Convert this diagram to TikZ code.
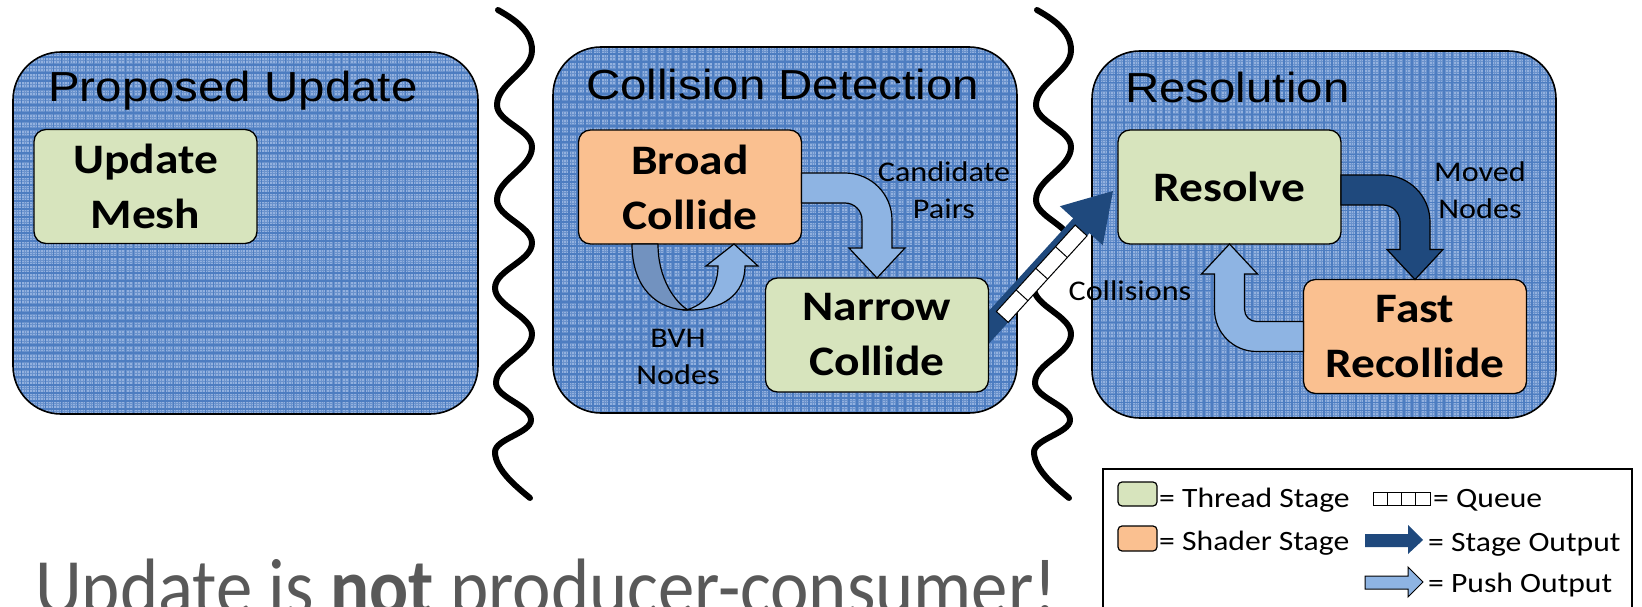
\documentclass[tikz,border=0pt]{standalone}
\usepackage{fontspec}
\setmainfont{Carlito}
\newfontfamily\titlefont[FakeStretch=1.13]{Liberation Sans}
\newfontfamily\stagefont[FakeStretch=1.13]{Carlito}
\newfontfamily\slidefont[FakeStretch=0.91]{Carlito}
\usetikzlibrary{calc}

\definecolor{threadgreen}{HTML}{D7E4BD}
\definecolor{shaderorange}{HTML}{FAC090}
\definecolor{pushblue}{HTML}{8EB4E3}
\definecolor{stageblue}{HTML}{1F497D}
\definecolor{backblue}{HTML}{7292BF}
\definecolor{panelbase}{HTML}{93B1DF}
\definecolor{panelfine}{HTML}{6A92CC}
\definecolor{panelmajor}{HTML}{4D7DC1}
\definecolor{notegray}{HTML}{595959}

\pgfdeclarelayer{bg}
\pgfdeclarelayer{mid}
\pgfsetlayers{bg,mid,main}

\tikzset{
  panel/.style={draw=black, line width=1.6pt, fill=panelbase, rounded corners=48pt,
    inner sep=0pt, outer sep=0pt,
    path picture={
      \draw[panelfine, line width=0.7pt, step=2.7pt]
        (path picture bounding box.south west) grid (path picture bounding box.north east);
      \draw[panelmajor, line width=1.1pt, step=8pt]
        (path picture bounding box.south west) grid (path picture bounding box.north east);
    }},
  stagebox/.style={draw=black, line width=1.3pt, rounded corners=12pt,
    minimum width=223pt, minimum height=114pt, inner sep=0pt, outer sep=0pt, align=center,
    font=\stagefont\bfseries\fontsize{42}{55}\selectfont},
  thread/.style={stagebox, fill=threadgreen},
  shader/.style={stagebox, fill=shaderorange},
  paneltitle/.style={anchor=base west, inner sep=0pt, font=\titlefont\fontsize{42}{50}\selectfont},
  flowlabel/.style={inner sep=0pt, align=center, font=\stagefont\fontsize{28.5}{37}\selectfont},
  legendtext/.style={anchor=base west, inner sep=0pt, font=\stagefont\fontsize{28}{34}\selectfont},
  pushshape/.style={fill=pushblue, draw=black, line width=1.2pt, line join=miter},
  stageshape/.style={fill=stageblue, draw=black, line width=1.2pt, line join=miter},
  waveline/.style={draw=black, line width=6pt, line cap=round, line join=round},
  queuecell/.style={draw=black, fill=white, line width=1pt},
}

% wavy separator between two pipeline stages
\newcommand{\drawstagebreak}{%
  \draw[waveline] (498,10) .. controls (512,18) and (532,30) .. (532,50)
    .. controls (532,72) and (497,83) .. (497,105)
    .. controls (497,122) and (532,130) .. (532,147)
    .. controls (532,168) and (497,179) .. (497,200)
    .. controls (497,217) and (532,226) .. (532,243)
    .. controls (532,261) and (495,270) .. (495,288)
    .. controls (495,306) and (532,316) .. (532,334)
    .. controls (532,354) and (496,363) .. (496,383)
    .. controls (496,398) and (531,405) .. (531,420)
    .. controls (531,433) and (495,439) .. (495,452)
    .. controls (495,470) and (518,488) .. (530,498);
}

% block arrow with one rounded bend: style, start, target, horizontal sense, vertical sense, inner radius
\newcommand{\bentarrow}[6]{%
  \path[#1] let \p1=(#2), \p2=(#3),
      \p3=({\x2-(#4)*(15pt+#6)}, {\y1+(#5)*(15pt+#6)}) in
    (\x1, {\y1-(#5)*15pt}) -- (\x3, {\y1-(#5)*15pt})
    .. controls ({\x3+(#4)*0.5523*(#6+30pt)}, {\y1-(#5)*15pt})
            and ({\x2+(#4)*15pt}, {\y3-(#5)*0.5523*(#6+30pt)}) ..
    ({\x2+(#4)*15pt}, \y3)
    -- ({\x2+(#4)*15pt}, {\y2-(#5)*30pt})
    -- ({\x2+(#4)*28pt}, {\y2-(#5)*30pt})
    -- (\x2, \y2)
    -- ({\x2-(#4)*28pt}, {\y2-(#5)*30pt})
    -- ({\x2-(#4)*15pt}, {\y2-(#5)*30pt})
    -- ({\x2-(#4)*15pt}, \y3)
    .. controls ({\x2-(#4)*15pt}, {\y3-(#5)*0.5523*#6})
            and ({\x3+(#4)*0.5523*#6}, {\y1+(#5)*15pt}) ..
    (\x3, {\y1+(#5)*15pt})
    -- (\x1, {\y1+(#5)*15pt}) -- cycle;
}

\begin{document}
\begin{tikzpicture}[x=1pt, y=-1pt]
\useasboundingbox (0,0) rectangle (1642,607);

% stage containers and separators
\begin{pgfonlayer}{bg}
  \node[panel, minimum width=465pt, minimum height=362pt] (pupdate) at (245.5,233) {};
  \node[panel, minimum width=464pt, minimum height=366pt] (pdetect) at (785,230) {};
  \node[panel, minimum width=464pt, minimum height=367pt] (presolve) at (1324,234.5) {};
  \drawstagebreak
  \begin{scope}[xshift=539pt]
    \drawstagebreak
  \end{scope}
\end{pgfonlayer}

\node[paneltitle] (tupdate) at (48,102) {Proposed Update};
\node[paneltitle] (tdetect) at (586,100) {Collision Detection};
\node[paneltitle] (tresolve) at (1125,103) {Resolution};

% stages
\node[thread] (mesh) at (145.5,186.5) {Update\\Mesh};
\node[shader] (broad) at (690,187) {Broad\\Collide};
\node[thread] (narrow) at (877,335) {Narrow\\Collide};
\node[thread] (resolve) at (1229.5,187) {Resolve};
\node[shader] (fast) at (1415,336.5) {Fast\\Recollide};

% queued stage output from narrow phase to resolution
\coordinate (qtail) at ($(narrow.east)+(-14,8)$);
\coordinate (qtip) at ($(resolve.west)+(-5,4)$);
\path let \p1=(qtail), \p2=(qtip) in
  \pgfextra{\pgfmathsetmacro\tmpang{atan2(\y2-\y1,\x2-\x1)}\global\let\qangle\tmpang
            \pgfmathsetmacro\tmplen{veclen(\x2-\x1,\y2-\y1)}\global\let\qlength\tmplen};
\begin{pgfonlayer}{mid}
  \begin{scope}[shift={(qtail)}, rotate=\qangle]
    \fill[stageblue] (0,-11) -- ({\qlength-47},-11) -- ({\qlength-47},-29) -- ({\qlength},0)
      -- ({\qlength-47},29) -- ({\qlength-47},11) -- (0,11) -- cycle;
    \draw[queuecell] (38,-5) rectangle (155,11);
    \draw[line width=1pt] (67.25,-5) -- (67.25,11) (96.5,-5) -- (96.5,11) (125.75,-5) -- (125.75,11);
  \end{scope}
\end{pgfonlayer}

% candidate pairs, moved nodes and collisions outputs
\bentarrow{pushshape}{$(broad.east)+(0,1)$}{narrow.north}{1}{-1}{17pt}
\bentarrow{stageshape}{$(resolve.east)+(0,3)$}{fast.north}{1}{-1}{17pt}
\bentarrow{pushshape}{fast.west}{resolve.south}{-1}{1}{12pt}

% BVH nodes pushed back into broad phase
\begin{scope}[shift={(broad.south)}]
  \draw[fill=backblue, line width=1.2pt, line join=round]
    (-58,0) .. controls (-58,45) and (-32,66) .. (-2,66)
    .. controls (-15,58) and (-32,35) .. (-32,0) -- cycle;
  \draw[pushshape]
    (-4,66) .. controls (33,67) and (55,50) .. (55,22) -- (68,22) -- (44,0) -- (16,22) -- (28,22)
    .. controls (28,45) and (15,61) .. (-4,66) -- cycle;
\end{scope}

\node[flowlabel] (lcand) at (944,190.6) {Candidate\\Pairs};
\node[flowlabel] (lbvh) at (678,357) {BVH\\Nodes};
\node[flowlabel] (lmoved) at (1480,190.6) {Moved\\Nodes};
\node[flowlabel, anchor=base] (lcoll) at (1130,300) {Collisions};

% key
\begin{scope}
  \clip (0,0) rectangle (1642,607);
  \draw[line width=1.3pt, fill=white] (1103,469) rectangle (1632,650);
\end{scope}
\draw[fill=threadgreen, line width=1.2pt, rounded corners=4pt] (1118,482) rectangle (1157,506);
\node[legendtext] (kthread) at (1159,507) {= Thread Stage};
\draw[fill=shaderorange, line width=1.2pt, rounded corners=4pt] (1118,526) rectangle (1157,551);
\node[legendtext] (kshader) at (1159,550) {= Shader Stage};
\draw[queuecell] (1373,492) rectangle (1430,505);
\draw[line width=1pt] (1387.25,492) -- (1387.25,505) (1401.5,492) -- (1401.5,505) (1415.75,492) -- (1415.75,505);
\node[legendtext] (kqueue) at (1433,507) {= Queue};
\fill[stageblue] (1365,534) -- (1408,534) -- (1408,525) -- (1423,540) -- (1408,554) -- (1408,547) -- (1365,547) -- cycle;
\node[legendtext] (kstage) at (1428,551) {= Stage Output};
\draw[pushshape, line width=1pt] (1365,576) -- (1408,576) -- (1408,567) -- (1423,582) -- (1408,597) -- (1408,589) -- (1365,589) -- cycle;
\node[legendtext] (kpush) at (1428,592) {= Push Output};

% closing remark
\node[anchor=base west, inner sep=0pt, text=notegray, font=\slidefont\fontsize{80}{90}\selectfont]
  (remark) at (35,614) {Update is \textbf{not} producer-consumer!};
\end{tikzpicture}
\end{document}
